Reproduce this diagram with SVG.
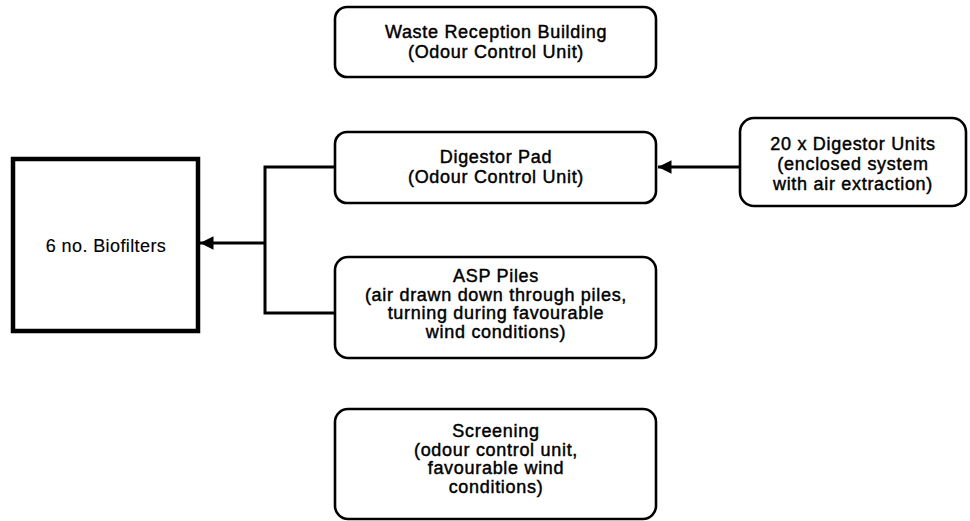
<svg xmlns="http://www.w3.org/2000/svg" width="970" height="521" viewBox="0 0 970 521">
  <style>
    .box { fill: #ffffff; stroke: #000000; stroke-width: 2.6; }
    .sq { fill: #ffffff; stroke: #000000; stroke-width: 4.5; }
    .lbl { font-family: "Liberation Sans", Arial, sans-serif; font-size: 18px; letter-spacing: 0.7px; fill: #000000; stroke: #000000; stroke-width: 0.45; text-anchor: middle; }
    .plain { stroke-width: 0.15; letter-spacing: 0.4px; }
    .wire { fill: none; stroke: #000000; stroke-width: 3; }
  </style>
  <defs>
    <marker id="arrow" viewBox="0 0 10 10" refX="10" refY="5" markerWidth="5" markerHeight="4.5" orient="auto" markerUnits="strokeWidth">
      <path d="M0,0 L10,5 L0,10 Z" fill="#000000"/>
    </marker>
  </defs>
  <rect width="970" height="521" fill="#ffffff"/>

  <!-- connectors -->
  <g id="connectors">
    <path class="wire" d="M335,167 H265 V313 H335"/>
    <line class="wire" x1="265" y1="243" x2="200" y2="243" marker-end="url(#arrow)"/>
    <line class="wire" x1="740" y1="167" x2="658" y2="167" marker-end="url(#arrow)"/>
  </g>

  <g id="waste-reception">
    <rect class="box" x="335" y="7" width="321" height="70" rx="12"/>
    <text class="lbl" x="496" y="38">Waste Reception Building</text>
    <text class="lbl" x="496" y="57.5">(Odour Control Unit)</text>
  </g>

  <g id="digestor-pad">
    <rect class="box" x="335" y="132" width="321" height="71" rx="12"/>
    <text class="lbl" x="496" y="163">Digestor Pad</text>
    <text class="lbl" x="496" y="183">(Odour Control Unit)</text>
  </g>

  <g id="digestor-units">
    <rect class="box" x="740" y="118" width="226" height="88" rx="14"/>
    <text class="lbl" x="853" y="150">20 x Digestor Units</text>
    <text class="lbl" x="853" y="170">(enclosed system</text>
    <text class="lbl" x="853" y="190">with air extraction)</text>
  </g>

  <g id="biofilters">
    <rect class="sq" x="13" y="159" width="185" height="172"/>
    <text class="lbl plain" x="106" y="252">6 no. Biofilters</text>
  </g>

  <g id="asp-piles">
    <rect class="box" x="335" y="257" width="321" height="101" rx="13"/>
    <text class="lbl" x="496" y="282">ASP Piles</text>
    <text class="lbl" x="496" y="300.5">(air drawn down through piles,</text>
    <text class="lbl" x="496" y="319">turning during favourable</text>
    <text class="lbl" x="496" y="337.5">wind conditions)</text>
  </g>

  <g id="screening">
    <rect class="box" x="335" y="409" width="321" height="110" rx="13"/>
    <text class="lbl" x="496" y="437">Screening</text>
    <text class="lbl" x="496" y="455.5">(odour control unit,</text>
    <text class="lbl" x="496" y="474">favourable wind</text>
    <text class="lbl" x="496" y="492.5">conditions)</text>
  </g>
</svg>
